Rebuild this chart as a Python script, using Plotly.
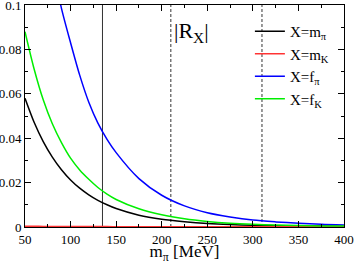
import plotly.graph_objects as go

# data
x_vals = [50, 60, 70, 80, 90, 100, 110, 120, 130, 140, 150, 175, 200, 225, 250, 275, 300, 325, 350, 375, 400]
r_mpi = [0.058, 0.0472, 0.0385, 0.0315, 0.0258, 0.0212, 0.0175, 0.0145, 0.0120, 0.0100, 0.0083, 0.0053,
         0.0035, 0.0024, 0.0016, 0.0011, 0.0008, 0.0006, 0.0005, 0.0004, 0.0003]
r_mK = [0.0003, 0.0003, 0.00028, 0.00026, 0.00024, 0.00022, 0.0002, 0.00019, 0.00018, 0.00017, 0.00016,
        0.00014, 0.00013, 0.00012, 0.00011, 0.0001, 0.0001, 0.00009, 0.00009, 0.00008, 0.00008]
r_fK = [0.088, 0.0712, 0.0573, 0.0465, 0.038, 0.031, 0.0257, 0.0215, 0.0178, 0.0148, 0.0124, 0.0082,
        0.0055, 0.0037, 0.0025, 0.0017, 0.0012, 0.0009, 0.0007, 0.0005, 0.0004]
x_fpi = [80, 90, 100, 110, 120, 130, 140, 150, 175, 200, 225, 250, 275, 300, 325, 350, 375, 400]
r_fpi = [0.118, 0.0985, 0.0830, 0.0684, 0.0562, 0.0468, 0.0395, 0.0335, 0.0218, 0.0143, 0.0095, 0.0064,
         0.0045, 0.0031, 0.0023, 0.0017, 0.0012, 0.0009]

vline_solid = [135]
vline_dashed = [210, 310]

x_ticks = [50, 100, 150, 200, 250, 300, 350, 400]
y_ticks = [0, 0.02, 0.04, 0.06, 0.08, 0.1]
y_ticktext = ["0", "0.02", "0.04", "0.06", "0.08", "0.1"]

FONT = "Liberation Serif"

fig = go.Figure()

for xv in vline_solid:
    fig.add_trace(go.Scatter(x=[xv, xv], y=[0, 0.1], mode="lines", showlegend=False,
                             line=dict(color="#333333", width=1), hoverinfo="skip"))
for xv in vline_dashed:
    fig.add_trace(go.Scatter(x=[xv, xv], y=[0, 0.1], mode="lines", showlegend=False,
                             line=dict(color="#333333", width=1, dash="3px,2px"), hoverinfo="skip"))

series = [
    ("X=m<sub>π</sub>", x_vals, r_mpi, "#000000"),
    ("X=m<sub>K</sub>", x_vals, r_mK, "#ff3333"),
    ("X=f<sub>π</sub>", x_fpi, r_fpi, "#0000ff"),
    ("X=f<sub>K</sub>", x_vals, r_fK, "#00ee00"),
]
for name, xs, ys, col in series:
    fig.add_trace(go.Scatter(x=xs, y=ys, mode="lines", name=name,
                             line=dict(color=col, width=1.5, shape="spline", smoothing=0.8)))

fig.add_annotation(x=233, y=0.088, xref="x", yref="y", text="|R<sub>X</sub>|", showarrow=False,
                   font=dict(family=FONT, size=22, color="black"))

axis_common = dict(showline=True, linecolor="black", linewidth=1, mirror="allticks",
                   ticks="inside", ticklen=6, tickcolor="black", showgrid=False, zeroline=False,
                   automargin=False, ticklabeloverflow="allow",
                   tickfont=dict(family=FONT, size=13, color="black"))

fig.update_layout(
    width=354, height=264,
    margin=dict(l=25, r=10, t=5, b=37),
    paper_bgcolor="white", plot_bgcolor="white",
    font=dict(family=FONT, color="black"),
    xaxis=dict(range=[50, 400], tickvals=x_ticks,
               minor=dict(ticks="inside", dtick=25, ticklen=3, tickcolor="black"),
               title=dict(text="m<sub>π</sub> [MeV]", font=dict(family=FONT, size=17), standoff=0),
               **axis_common),
    yaxis=dict(range=[0, 0.1], tickvals=y_ticks, ticktext=y_ticktext,
               minor=dict(ticks="inside", dtick=0.01, ticklen=3, tickcolor="black"),
               **axis_common),
    legend=dict(x=0.705, y=0.955, xanchor="left", yanchor="top", bgcolor="rgba(0,0,0,0)",
                font=dict(family=FONT, size=15), itemwidth=30, tracegroupgap=0),
    showlegend=True,
)

fig.write_html("out.html", config={"displayModeBar": False},
               post_script="document.body.style.margin='0';")
